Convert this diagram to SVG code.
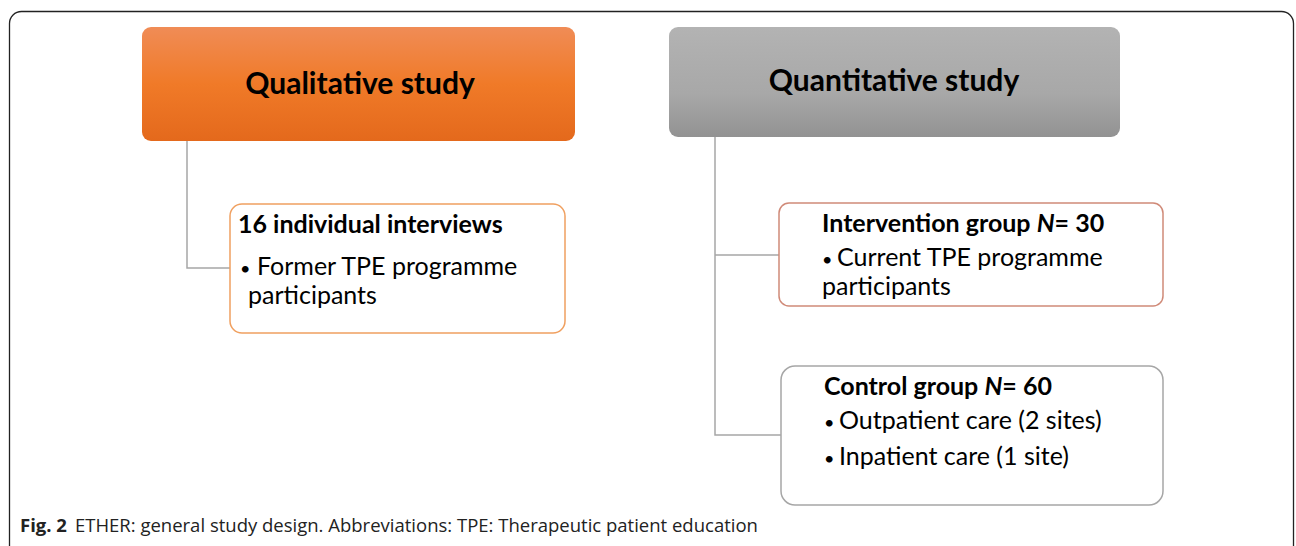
<svg xmlns="http://www.w3.org/2000/svg" width="1296" height="546" viewBox="0 0 1296 546">
<defs>
<linearGradient id="gOrange" x1="0" y1="0" x2="0" y2="1">
<stop offset="0" stop-color="#f08c56"/>
<stop offset="0.5" stop-color="#f07a28"/>
<stop offset="1" stop-color="#e4691c"/>
</linearGradient>
<linearGradient id="gGray" x1="0" y1="0" x2="0" y2="1">
<stop offset="0" stop-color="#b3b3b3"/>
<stop offset="0.6" stop-color="#a8a8a8"/>
<stop offset="1" stop-color="#929292"/>
</linearGradient>
<style>
.head{font-family:"Lato","Open Sans","Liberation Sans",sans-serif;font-weight:bold;font-size:30px;fill:#000;}
.sub{font-family:"Lato","Open Sans","Liberation Sans",sans-serif;font-weight:bold;font-size:25px;fill:#000;}
.body{font-family:"Lato","Open Sans","Liberation Sans",sans-serif;font-size:25px;fill:#000;}
.b{font-size:18px;}
.conn{fill:none;stroke:#a6a6a6;stroke-width:1.5;}
.cap{font-family:"Open Sans","Liberation Sans",sans-serif;font-size:18.5px;fill:#222;}
</style>
</defs>
<rect x="9.5" y="11.5" width="1284" height="548" rx="12" fill="#fff" stroke="#222" stroke-width="1.3"/>
<g id="connectors">
<path class="conn" d="M187 141 V268 H230"/>
<path class="conn" d="M715 137 V435 H781"/>
<path class="conn" d="M715 255 H779"/>
</g>
<g id="qualitative">
<rect x="142" y="27" width="433" height="114" rx="9" fill="url(#gOrange)"/>
<text class="head" x="360" y="94" text-anchor="middle">Qualitative study</text>
</g>
<g id="quantitative">
<rect x="669" y="27" width="451" height="110" rx="9" fill="url(#gGray)"/>
<text class="head" x="894" y="91" text-anchor="middle">Quantitative study</text>
</g>
<g id="interviews">
<rect x="230" y="204" width="335" height="129" rx="12" fill="#fff" stroke="#f0a060" stroke-width="1.5"/>
<text class="sub" x="238" y="233">16 individual interviews</text>
<text class="body" x="240" y="275"><tspan class="b">•</tspan><tspan x="257">Former TPE programme</tspan></text>
<text class="body" x="248" y="304">participants</text>
</g>
<g id="intervention">
<rect x="779" y="203" width="384" height="103" rx="10" fill="#fff" stroke="#d08a78" stroke-width="1.5"/>
<text class="sub" x="822" y="232">Intervention group <tspan font-style="italic">N</tspan>= 30</text>
<text class="body" x="822" y="266"><tspan class="b">•</tspan><tspan x="837">Current TPE programme</tspan></text>
<text class="body" x="822" y="295">participants</text>
</g>
<g id="control">
<rect x="781" y="366" width="382" height="139" rx="14" fill="#fff" stroke="#a6a6a6" stroke-width="1.5"/>
<text class="sub" x="824" y="395">Control group <tspan font-style="italic">N</tspan>= 60</text>
<text class="body" x="824" y="429"><tspan class="b">•</tspan><tspan x="839">Outpatient care (2 sites)</tspan></text>
<text class="body" x="824" y="465"><tspan class="b">•</tspan><tspan x="839">Inpatient care (1 site)</tspan></text>
</g>
<text class="cap" x="20" y="532"><tspan font-weight="bold">Fig. 2</tspan><tspan dx="8">ETHER: general study design. Abbreviations: TPE: Therapeutic patient education</tspan></text>
</svg>
